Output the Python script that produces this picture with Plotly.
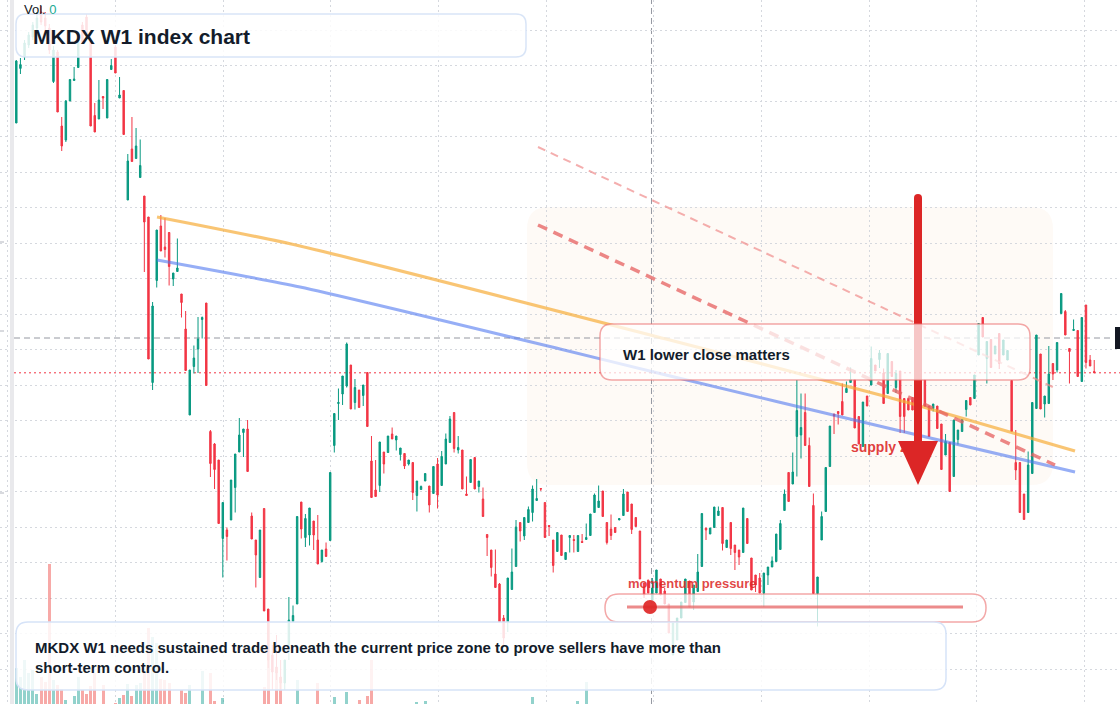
import plotly.graph_objects as go

# ---------------- data (weekly candles, index points) ----------------
opens = [5810,6356,6470,6590,6670,6760,6920,6860,6760,6225,
         6520,5780,5640,6030,6235,6365,6790,6870,6640,5885,
         5850,6075,5860,6345,6570,6060,6135,5040,5550,5455,
         5265,5080,4870,3215,4235,4780,4570,4715,4250,4325,
         4100,3750,2890,3375,3550,3845,4010,2725,2600,2440,
         1655,1740,1840,2165,2520,2715,2750,1880,1640,1265,
         1955,950,490,370,270,210,590,825,1000,2020,
         1665,1690,1830,1640,1425,1550,1635,2585,3005,3100,
         3180,3390,3015,3140,3085,3315,2430,2140,2185,2520,
         2515,2700,2640,2495,2505,2400,2415,2085,2145,2230,
         2180,2105,2400,2185,2400,2615,2915,2540,2540,2100,
         2215,2465,2175,2050,1695,1540,1300,1200,860,820,
         1145,1375,1815,1680,1815,1915,2035,2155,2015,1785,
         1640,1525,1690,1445,1665,1645,1525,1625,1645,1685,
         1915,1965,2130,1815,1750,1765,1840,1885,2120,2000,
         1865,1730,1210,1240,1040,1110,1250,1130,1000,490,
         640,860,1015,1230,1020,1125,1375,1760,1700,1765,
         1885,1965,1565,1815,1590,1540,1515,1855,1460,1290,
         1260,1110,1290,1370,1425,1545,1935,2315,2200,2675,
         2690,2915,2585,1985,1105,1640,1925,2375,2900,2925,
         3025,3115,3215,3245,2875,2575,3080,3190,3390,3445,
         3310,3105,3425,3165,3330,3055,3055,3065,2990,2890,
         3240,2980,2955,2980,2800,2490,2615,2275,2645,2725,
         2945,3065,3055,3490,3865,3455,3645,3500,3705,3490,
         3440,3235,2415,2415,2100,1915,2305,2955,3500,3000,
         3005,3405,3340,3905,3925,3555,3735,3735,3225,3990,
         3440,3325]

highs = [6440,6460,6640,6720,6820,6920,6980,6920,6800,6580,
         6540,5870,6040,6245,6370,6640,6820,6900,6660,6010,
         6240,6080,6245,6450,6590,6270,6135,5500,5870,5760,
         5645,5080,4870,4020,4740,4890,4860,4720,4310,4655,
         4100,3930,3340,3585,3870,3875,4010,2740,2610,2440,
         2015,1765,2240,2500,2860,2750,2840,1915,1640,1740,
         1955,950,590,690,440,440,1070,985,1875,2020,
         1900,1960,1830,1890,1540,1615,2315,2905,3155,3280,
         3615,3390,3250,3140,3190,3315,2680,2440,2620,2520,
         2680,2765,2680,2560,2505,2440,2415,2230,2185,2305,
         2180,2375,2460,2530,2705,2880,2915,2680,2540,2275,
         2445,2465,2230,2165,1695,1540,1545,1210,890,1260,
         1555,1840,1815,1865,1975,2185,2250,2155,2015,1790,
         1640,1715,1690,1515,1685,1690,1685,1700,1805,1900,
         2105,2185,2130,1815,1895,1765,1855,2150,2120,2000,
         1865,1730,1210,1240,1260,1340,1250,1160,1000,810,
         860,1020,1250,1230,1190,1500,1905,1760,1760,1970,
         1975,1965,1640,1815,1590,1540,1960,1855,1460,1290,
         1310,1310,1370,1475,1700,1840,2145,2315,2515,3240,
         3105,3105,2665,2105,1270,1925,2365,2780,2900,2925,
         3205,3225,3365,3245,2875,3020,3080,3575,3390,3540,
         3355,3505,3425,3340,3330,3055,3055,3065,3020,3220,
         3240,2980,3000,2980,2800,2700,2615,2840,2740,2845,
         3035,3065,3290,3805,3865,3625,3645,3580,3705,3640,
         3535,3240,2740,2415,2100,2525,3015,3690,3500,3080,
         3580,3405,3615,4105,3940,3555,3845,3735,3865,3990,
         3490,3440]

lows = [5810,6300,6440,6560,6640,6740,6790,6720,6500,6210,
        5920,5530,5620,6030,6235,6365,6600,6660,5780,5720,
        5850,5950,5860,6345,6310,6060,5695,5040,5425,5455,
        5265,4320,3450,3140,4165,4530,4465,4185,4180,4325,
        3865,3335,2890,3305,3310,3655,3185,2270,2150,1805,
        1265,1435,1840,1915,2520,2470,2325,1650,1165,1265,
        930,360,140,240,140,140,440,825,1000,1655,
        1570,1585,1540,1400,1415,1475,1635,2515,2840,2990,
        3165,2950,2945,2965,2980,2775,2065,2075,2120,2305,
        2515,2650,2535,2435,2350,2385,2040,1925,2145,2230,
        1915,2105,1955,2185,2400,2615,2515,2505,2150,2085,
        2215,2150,2115,1875,1480,1275,1165,820,590,720,
        1145,1375,1625,1640,1815,1825,2035,2130,1665,1680,
        1315,1525,1485,1445,1515,1515,1525,1615,1645,1685,
        1915,1965,1875,1595,1640,1715,1840,1885,1925,1700,
        1775,1250,1060,1110,1040,1110,1090,1000,710,490,
        640,860,1015,970,940,1125,1375,1640,1700,1765,
        1885,1535,1565,1490,1340,1390,1515,1605,1140,1120,
        1110,970,1190,1370,1425,1545,1935,2025,2200,2275,
        2455,2585,2175,1105,775,1640,1925,2375,2700,2795,
        2890,3115,3215,2760,2600,2575,2980,3190,3330,3360,
        3005,3105,3275,3110,2710,2710,2940,2940,2790,2880,
        2975,2675,2925,2755,2345,2490,2125,2275,2595,2725,
        2875,2990,3055,3490,3670,3205,3365,3500,3350,3490,
        3440,2725,2240,1915,1845,1915,2305,2955,2950,2865,
        3005,3240,3315,3905,3690,3205,3735,3275,3225,3355,
        3380,3310]

closes = [6430,6394,6610,6690,6790,6860,6820,6780,6540,6540,
          5920,5580,6030,6245,6250,6620,6620,6680,5780,5720,
          6040,6060,6245,6385,6310,6090,5695,5430,5425,5580,
          5385,4820,3450,3980,4740,4530,4545,4375,4310,4360,
          4015,3335,3340,3460,3650,3865,3185,2405,2345,1805,
          2015,1675,2240,2500,2690,2750,2325,1650,1490,1740,
          930,440,320,310,210,440,840,885,1875,1750,
          1855,1960,1690,1400,1540,1475,2315,2905,3015,3280,
          3600,2950,3165,2965,3190,2775,2065,2075,2620,2400,
          2680,2650,2680,2560,2380,2440,2115,2230,2175,2305,
          1990,2375,2090,2475,2650,2850,2555,2565,2150,2085,
          2445,2150,2230,1875,1665,1365,1165,820,660,1260,
          1320,1770,1730,1865,1945,2150,2055,2150,1665,1775,
          1385,1715,1485,1515,1685,1635,1685,1615,1665,1900,
          2090,2030,1875,1615,1685,1715,1855,2100,1925,1745,
          1775,1250,1090,1110,1160,1340,1090,1000,710,810,
          860,1020,1250,970,1190,1320,1905,1740,1760,1970,
          1930,1605,1640,1555,1515,1470,1960,1605,1140,1190,
          1110,1310,1370,1430,1700,1805,2100,2025,2320,2935,
          2765,2585,2175,1105,1270,1875,2365,2780,2880,2905,
          2890,3155,3245,2760,2600,3020,2980,3455,3330,3510,
          3005,3505,3275,3305,2875,2875,2940,2940,2840,3190,
          2975,2675,3000,2755,2345,2625,2125,2840,2740,2845,
          3035,2990,3290,3805,3670,3625,3365,3580,3405,3640,
          3535,2725,2340,1915,1845,2390,3015,3690,2950,3080,
          3300,3300,3615,4105,3690,3525,3745,3275,3865,3415,
          3380,3312]

volumes = [36,27,44,31,34,10,27,22,140,24,
           19,15,4,0,8,27,14,10,18,31,
           0,19,0,0,1,6,9,20,8,19,
           21,31,76,67,61,25,24,21,0,0,
           14,11,19,0,0,33,0,31,3,0,
           6,0,0,0,0,0,0,0,0,0,
           17,81,0,36,27,0,0,0,24,0,
           0,0,0,21,0,0,0,7,0,0,
           12,0,0,4,0,8,44,0,0,0,
           0,0,0,0,0,0,0,2,0,3,
           0,0,0,0,0,0,0,0,0,0,
           0,0,0,0,0,0,0,0,0,0,
           0,0,0,0,0,7,0,0,0,0,
           0,0,0,0,0,0,3,0,22,0] + [0] * 122

# drawn trend lines (bar index, index points)
orange_n = [34.07, 68.69, 157.31, 211.0, 256.35]
orange_p = [4870, 4580, 3650, 3070, 2530]
blue_n = [34.07, 68.69, 131.65, 157.31, 211.0, 256.35]
blue_p = [4440, 4170, 3550, 3290, 2760, 2320]
channel_upper = [(126.32, 5570), (251.5, 3160)]
channel_lower = [(126.32, 4790), (251.5, 2390)]
crosshair_bar = 153.8
crosshair_price = 3660

price_grid = [6738, 6383, 6028, 5673, 5318, 4963, 4608, 4253, 3898, 3543,
              3188, 2833, 2478, 2123, 1768, 1413, 1058, 703, 348]
time_grid = [-2.1, 24.0, 50.1, 76.1, 102.2, 128.3, 154.4, 180.4, 206.5, 232.6, 258.7]

title = "MKDX W1 index chart"
note = ["MKDX W1 needs sustained trade beneath the current price zone to prove sellers have more than",
        "short-term control."]

# ---------------- figure ----------------
W, H = 1120, 704
N = len(closes)
idx = list(range(N))
GREEN = "#089981"
RED = "#F23645"
FONT = "Liberation Sans"


def PX(x):
    return x / W


def PY(y):
    return 1 - y / H


def rrect(x0, y0, x1, y1, r):
    pts = [("M", [(x0 + r, y0)]), ("L", [(x1 - r, y0)]), ("Q", [(x1, y0), (x1, y0 + r)]),
           ("L", [(x1, y1 - r)]), ("Q", [(x1, y1), (x1 - r, y1)]), ("L", [(x0 + r, y1)]),
           ("Q", [(x0, y1), (x0, y1 - r)]), ("L", [(x0, y0 + r)]), ("Q", [(x0, y0), (x0 + r, y0)])]
    s = ""
    for cmd, ps in pts:
        s += cmd + " " + " ".join(f"{PX(a):.5f},{PY(b):.5f}" for a, b in ps) + " "
    return s + "Z"


fig = go.Figure()

vol_colors = ["rgba(38,166,154,0.5)" if c >= o else "rgba(239,83,80,0.5)" for o, c in zip(opens, closes)]
fig.add_trace(go.Bar(x=idx, y=volumes, marker=dict(color=vol_colors, line=dict(width=0)),
                     width=0.72, yaxis="y2", hoverinfo="skip"))

fig.add_trace(go.Candlestick(
    x=idx, open=opens, high=highs, low=lows, close=closes,
    increasing=dict(line=dict(color=GREEN, width=1), fillcolor=GREEN),
    decreasing=dict(line=dict(color=RED, width=1), fillcolor=RED),
    whiskerwidth=0, hoverinfo="skip"))

fig.add_trace(go.Scatter(x=orange_n, y=orange_p, mode="lines",
                         line=dict(color="rgba(246,170,50,0.68)", width=3.2, shape="spline", smoothing=0.6),
                         hoverinfo="skip"))
fig.add_trace(go.Scatter(x=blue_n, y=blue_p, mode="lines",
                         line=dict(color="rgba(80,120,240,0.6)", width=3, shape="spline", smoothing=0.6),
                         hoverinfo="skip"))

# "supply zone" label sits under the arrow
fig.add_trace(go.Scatter(x=[202.1], y=[2560], mode="text", text=["supply zone"],
                         textposition="middle right",
                         textfont=dict(family=FONT, size=14, color="rgba(220,38,38,0.9)", weight="bold"),
                         hoverinfo="skip"))

shapes = []
# faint zone
shapes.append(dict(type="path", xref="paper", yref="paper", path=rrect(527, 207, 1053, 485, 22),
                   fillcolor="rgba(245,215,185,0.12)", line=dict(width=0), layer="between"))
# crosshair + last price
shapes.append(dict(type="line", xref="paper", yref="y", x0=PX(14), x1=PX(1113),
                   y0=crosshair_price, y1=crosshair_price,
                   line=dict(color="#9598a1", width=1, dash="6px,4px"), layer="between"))
shapes.append(dict(type="line", xref="x", yref="paper", x0=crosshair_bar, x1=crosshair_bar, y0=0, y1=1,
                   line=dict(color="#9598a1", width=1, dash="6px,4px"), layer="between"))
shapes.append(dict(type="line", xref="paper", yref="y", x0=PX(14), x1=1,
                   y0=closes[-1], y1=closes[-1],
                   line=dict(color=RED, width=1, dash="2px,3px"), layer="between"))
# left strip + ticks
shapes.append(dict(type="rect", xref="paper", yref="paper", x0=PX(10), x1=PX(14), y0=0, y1=1,
                   fillcolor="#e9e9ec", line=dict(width=0), layer="above"))
for ty in [242, 331, 493]:
    shapes.append(dict(type="line", xref="paper", yref="paper", x0=0, x1=PX(4), y0=PY(ty), y1=PY(ty),
                       line=dict(color="#b2b5be", width=1), layer="above"))
# channel dashed lines
(a0, b0), (a1, b1) = channel_upper
shapes.append(dict(type="line", xref="x", yref="y", x0=a0, y0=b0, x1=a1, y1=b1,
                   line=dict(color="rgba(240,140,140,0.7)", width=2, dash="8px,6px"), layer="above"))
(a0, b0), (a1, b1) = channel_lower
shapes.append(dict(type="line", xref="x", yref="y", x0=a0, y0=b0, x1=a1, y1=b1,
                   line=dict(color="rgba(230,95,95,0.75)", width=3.5, dash="10px,7px"), layer="above"))
# arrow
shapes.append(dict(type="line", xref="paper", yref="paper", x0=PX(918), x1=PX(918), y0=PY(198), y1=PY(444),
                   line=dict(color="#dc2626", width=8), layer="above"))
shapes.append(dict(type="circle", xref="paper", yref="paper", x0=PX(914), x1=PX(922), y0=PY(194), y1=PY(202),
                   fillcolor="#dc2626", line=dict(width=0), layer="above"))
shapes.append(dict(type="path", xref="paper", yref="paper",
                   path=f"M {PX(898)},{PY(441)} L {PX(938)},{PY(441)} L {PX(918)},{PY(485)} Z",
                   fillcolor="#dc2626", line=dict(width=0), layer="above"))
# boxes
shapes.append(dict(type="path", xref="paper", yref="paper", path=rrect(600, 324, 1030, 380, 12),
                   fillcolor="rgba(255,255,255,0.74)", line=dict(color="rgba(235,110,110,0.6)", width=1.5),
                   layer="above"))
shapes.append(dict(type="path", xref="paper", yref="paper", path=rrect(605, 594, 986, 622, 14),
                   fillcolor="rgba(255,255,255,0.74)", line=dict(color="rgba(235,110,110,0.6)", width=1.5),
                   layer="above"))
shapes.append(dict(type="line", xref="paper", yref="paper", x0=PX(627), x1=PX(963), y0=PY(607), y1=PY(607),
                   line=dict(color="rgba(230,100,100,0.75)", width=3), layer="above"))
shapes.append(dict(type="circle", xref="paper", yref="paper", x0=PX(643), x1=PX(657), y0=PY(600), y1=PY(614),
                   fillcolor="rgba(222,38,38,0.92)", line=dict(width=0), layer="above"))
shapes.append(dict(type="path", xref="paper", yref="paper", path=rrect(16, 14, 526, 57, 10),
                   fillcolor="rgba(255,255,255,0.85)", line=dict(color="#d9e5f7", width=1.5), layer="above"))
shapes.append(dict(type="path", xref="paper", yref="paper", path=rrect(16, 622, 946, 690, 12),
                   fillcolor="rgba(255,255,255,0.85)", line=dict(color="#d6e3f8", width=1.5), layer="above"))
# right price label stub
shapes.append(dict(type="rect", xref="paper", yref="paper", x0=PX(1115), x1=PX(1125), y0=PY(349), y1=PY(327),
                   fillcolor="#131722", line=dict(width=0), layer="above"))

DARK = "#131c2b"
ann = []
ann.append(dict(x=PX(22), y=PY(9), xref="paper", yref="paper", xanchor="left", yanchor="middle",
                text="Vol. <span style='color:#22ab94'>0</span>", showarrow=False,
                font=dict(family=FONT, size=13, color="#131722")))
ann.append(dict(x=PX(31), y=PY(36), xref="paper", yref="paper", xanchor="left", yanchor="middle",
                text=f"<b>{title}</b>", showarrow=False,
                font=dict(family=FONT, size=21, color=DARK)))
ann.append(dict(x=PX(33), y=PY(647), xref="paper", yref="paper", xanchor="left", yanchor="middle",
                text=f"<b>{note[0]}</b>", showarrow=False,
                font=dict(family=FONT, size=15, color=DARK)))
ann.append(dict(x=PX(33), y=PY(667), xref="paper", yref="paper", xanchor="left", yanchor="middle",
                text=f"<b>{note[1]}</b>", showarrow=False,
                font=dict(family=FONT, size=15, color=DARK)))
ann.append(dict(x=PX(621), y=PY(354), xref="paper", yref="paper", xanchor="left", yanchor="middle",
                text="<b>W1 lower close matters</b>", showarrow=False,
                font=dict(family=FONT, size=15, color=DARK)))
ann.append(dict(x=PX(626), y=PY(583), xref="paper", yref="paper", xanchor="left", yanchor="middle",
                text="<b>momentum pressure</b>", showarrow=False,
                font=dict(family=FONT, size=13, color="rgba(220,38,38,0.85)")))

fig.update_layout(
    width=W, height=H, margin=dict(l=0, r=0, t=0, b=0),
    paper_bgcolor="white", plot_bgcolor="white", showlegend=False,
    boxgap=0.5, bargap=0,
    xaxis=dict(range=[-3.947, 267.24], showticklabels=False, ticks="", zeroline=False,
               tickmode="array", tickvals=time_grid, showgrid=True,
               gridcolor="#d5d8de", griddash="2px,3px", gridwidth=1,
               rangeslider=dict(visible=False), fixedrange=True),
    yaxis=dict(range=[0, 7040], showticklabels=False, ticks="", zeroline=False,
               tickmode="array", tickvals=price_grid, showgrid=True,
               gridcolor="#d5d8de", griddash="2px,3px", gridwidth=1, fixedrange=True),
    yaxis2=dict(range=[0, 704], overlaying="y", visible=False, fixedrange=True),
    shapes=shapes, annotations=ann,
)

fig.write_html("out.html")
